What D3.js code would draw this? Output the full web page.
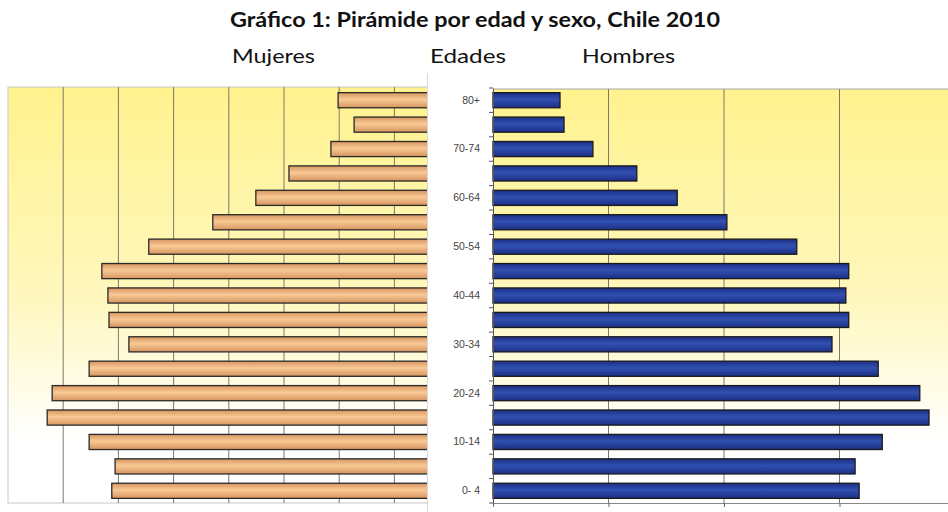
<!DOCTYPE html>
<html>
<head>
<meta charset="utf-8">
<script src="https://cdn.jsdelivr.net/npm/d3@7"></script>
<style>
  body { margin: 0; background: #fff; }
  svg { display: block; }
</style>
</head>
<body>
<div></div>
<script>
const width = 948;
const height = 512;

// grupos de edad, de arriba hacia abajo
const edades = ["80+", "75-79", "70-74", "65-69", "60-64", "55-59", "50-54", "45-49",
  "40-44", "35-39", "30-34", "25-29", "20-24", "15-19", "10-14", "5-9", "0- 4"];
// etiquetas visibles (una sí, una no)
const etiquetas = ["80+", "70-74", "60-64", "50-54", "40-44", "30-34", "20-24", "10-14", "0- 4"];

// población en miles (estimada del gráfico)
const mujeres = [202, 173, 215, 291, 351, 429, 545, 630, 619, 617, 581, 653, 720, 729, 653, 606, 612];
const hombres = [116, 123, 173, 249, 319, 405, 526, 616, 611, 616, 587, 667, 739, 755, 674, 627, 634];

const gridMujeres = [100, 200, 300, 400, 500, 600, 700];
const gridHombres = [200, 400, 600];

const svg = d3.select("div").append("svg")
  .attr("width", width)
  .attr("height", height);

const defs = svg.append("defs");

const bg = defs.append("linearGradient").attr("id", "bg")
  .attr("x1", 0).attr("y1", 0).attr("x2", 0).attr("y2", 1);
bg.append("stop").attr("offset", "0%").attr("stop-color", "#fff28e");
bg.append("stop").attr("offset", "50%").attr("stop-color", "#fff7bd");
bg.append("stop").attr("offset", "85%").attr("stop-color", "#ffffff");

const gF = defs.append("linearGradient").attr("id", "gF")
  .attr("x1", 0).attr("y1", 0).attr("x2", 0).attr("y2", 1);
gF.append("stop").attr("offset", "0%").attr("stop-color", "#d6955f");
gF.append("stop").attr("offset", "45%").attr("stop-color", "#f9c995");
gF.append("stop").attr("offset", "100%").attr("stop-color", "#d6955f");

const gM = defs.append("linearGradient").attr("id", "gM")
  .attr("x1", 0).attr("y1", 0).attr("x2", 0).attr("y2", 1);
gM.append("stop").attr("offset", "0%").attr("stop-color", "#1c2f86");
gM.append("stop").attr("offset", "45%").attr("stop-color", "#3150b0");
gM.append("stop").attr("offset", "100%").attr("stop-color", "#1c2f86");

defs.append("clipPath").attr("id", "clipF")
  .append("rect").attr("x", 0).attr("y", 0).attr("width", 427).attr("height", height);
defs.append("clipPath").attr("id", "clipM")
  .append("rect").attr("x", 0).attr("y", 0).attr("width", width).attr("height", height);

// escalas
const y = d3.scaleBand().domain(edades).range([88, 503]).paddingInner(0.38).paddingOuter(0.19);
const xF = d3.scaleLinear().domain([0, 800]).range([449.6, 8]);
const xM = d3.scaleLinear().domain([0, 800]).range([493, 955]);

// títulos
svg.append("text")
  .attr("x", 230).attr("y", 27)
  .attr("font-family", "Lato, 'Open Sans', sans-serif")
  .attr("font-weight", "bold")
  .attr("font-size", 20)
  .attr("textLength", 490)
  .attr("lengthAdjust", "spacingAndGlyphs")
  .attr("fill", "#111")
  .text("Gráfico 1: Pirámide por edad y sexo, Chile 2010");

const sub = [["Mujeres", 232, 83], ["Edades", 430, 76], ["Hombres", 582, 93]];
svg.selectAll(".sub").data(sub).enter().append("text")
  .attr("class", "sub")
  .attr("x", d => d[1])
  .attr("y", 63)
  .attr("font-family", "Lato, 'Open Sans', sans-serif")
  .attr("font-size", 20)
  .attr("textLength", d => d[2])
  .attr("lengthAdjust", "spacingAndGlyphs")
  .attr("fill", "#111")
  .text(d => d[0]);

// ----- panel mujeres -----
const left = svg.append("g").attr("clip-path", "url(#clipF)");
left.append("rect")
  .attr("x", 8).attr("y", 87)
  .attr("width", 440).attr("height", 416)
  .attr("fill", "url(#bg)")
  .attr("stroke", "#c8c8c8");

left.selectAll(".gridF").data(gridMujeres).enter().append("line")
  .attr("x1", d => xF(d)).attr("x2", d => xF(d))
  .attr("y1", 87).attr("y2", 503)
  .attr("stroke", "#7a7a6a").attr("stroke-width", 1);

left.selectAll(".barF").data(mujeres).enter().append("rect")
  .attr("x", d => xF(d))
  .attr("y", (d, i) => y(edades[i]))
  .attr("width", d => xF(0) - xF(d))
  .attr("height", y.bandwidth())
  .attr("fill", "url(#gF)")
  .attr("stroke", "#2a2a2a")
  .attr("stroke-width", 1.3);

// ----- panel hombres -----
svg.append("line")
  .attr("x1", 427.5).attr("x2", 427.5)
  .attr("y1", 73).attr("y2", height)
  .attr("stroke", "#d8d8d8");

const right = svg.append("g").attr("clip-path", "url(#clipM)");
right.append("rect")
  .attr("x", 493).attr("y", 89)
  .attr("width", 470).attr("height", 414)
  .attr("fill", "url(#bg)");
right.append("line")
  .attr("x1", 493).attr("x2", width)
  .attr("y1", 89).attr("y2", 89)
  .attr("stroke", "#a8a8a8");

right.selectAll(".gridM").data(gridHombres).enter().append("line")
  .attr("x1", d => xM(d)).attr("x2", d => xM(d))
  .attr("y1", 89).attr("y2", 503)
  .attr("stroke", "#7a7a6a").attr("stroke-width", 1);

right.selectAll(".barM").data(hombres).enter().append("rect")
  .attr("x", xM(0))
  .attr("y", (d, i) => y(edades[i]))
  .attr("width", d => xM(d) - xM(0))
  .attr("height", y.bandwidth())
  .attr("fill", "url(#gM)")
  .attr("stroke", "#1a1a1a")
  .attr("stroke-width", 1.3);

// eje de edades
const yAxis = d3.axisLeft(y)
  .tickSize(0)
  .tickPadding(13)
  .tickFormat(d => etiquetas.includes(d) ? d : "");
const ga = svg.append("g")
  .attr("transform", "translate(493,0)")
  .call(yAxis);
ga.select(".domain").attr("stroke", "#555");
ga.selectAll("text")
  .attr("font-family", "'Liberation Sans', Arial, sans-serif")
  .attr("font-size", 10.5)
  .attr("fill", "#444");

// marcas entre categorías
const limites = edades.map(d => y(d) - y.step() * y.paddingInner() / 2).concat([503]);
svg.selectAll(".tk").data(limites).enter().append("line")
  .attr("x1", 489).attr("x2", 493)
  .attr("y1", d => d).attr("y2", d => d)
  .attr("stroke", "#555");

// eje inferior hombres
const xAxis = d3.axisBottom(xM)
  .tickValues([0, 200, 400, 600])
  .tickSize(4)
  .tickFormat("");
const gx = svg.append("g")
  .attr("transform", "translate(0,503)")
  .call(xAxis);
gx.select(".domain").attr("stroke", "#888");
gx.selectAll(".tick line").attr("stroke", "#666");
</script>
</body>
</html>
